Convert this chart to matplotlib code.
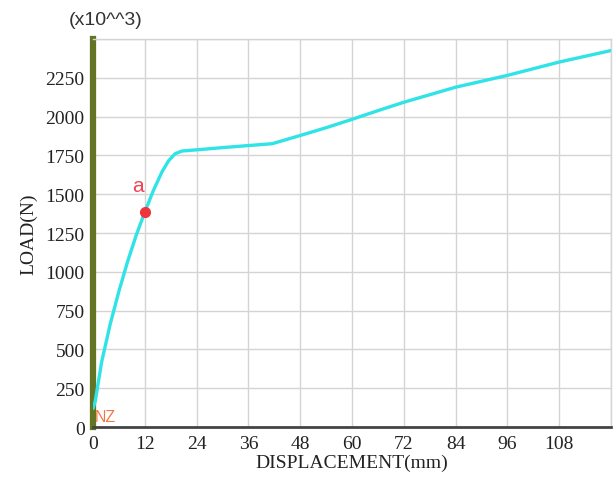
import matplotlib
matplotlib.use("Agg")
import matplotlib.pyplot as plt

# data (displacement mm, load N)
disp = [0, 0.5, 2.0, 4.0, 6.0, 8.0, 10.0, 12.0, 14.0, 16.0, 17.5, 19.0, 20.6, 25.0,
        30.0, 36.8, 41.5, 48.0, 54.0, 60.0, 66.0, 72.0, 84.0, 96.0, 108.0, 120.0]
load = [120, 165, 420, 665, 875, 1065, 1235, 1385, 1525, 1645, 1715, 1760, 1778, 1788,
        1800, 1815, 1825, 1878, 1928, 1982, 2038, 2092, 2189, 2265, 2351, 2425]
point_a = (12.0, 1385)
xticks = [0, 12, 24, 36, 48, 60, 72, 84, 96, 108]
yticks = [0, 250, 500, 750, 1000, 1250, 1500, 1750, 2000, 2250]

fig = plt.figure(figsize=(6.14, 4.81), dpi=100)
ax = fig.add_axes([0.1515, 0.110, 0.8435, 0.807])

ax.set_xlim(0, 120)
ax.set_ylim(0, 2500)
ax.set_xticks(list(range(0, 121, 12)))
ax.set_xticklabels([str(t) for t in xticks] + [""])
ax.set_yticks(list(range(0, 2501, 250)))
ax.set_yticklabels([str(t) for t in yticks] + [""])
ax.grid(True, color="#d4d4d4", linewidth=1.0)
ax.set_axisbelow(True)
ax.tick_params(length=0, pad=6, labelsize=14)
for lab in ax.get_xticklabels() + ax.get_yticklabels():
    lab.set_fontfamily("Liberation Serif")
    lab.set_color("#222222")

ax.spines["top"].set_color("#d4d4d4")
ax.spines["right"].set_color("#d4d4d4")
ax.spines["top"].set_linewidth(1.0)
ax.spines["right"].set_linewidth(1.0)
ax.spines["bottom"].set_color("#444444")
ax.spines["bottom"].set_linewidth(2.0)
ax.spines["left"].set_color("#637524")
ax.spines["left"].set_linewidth(4.5)

ax.plot(disp, load, color="#2fe3e6", linewidth=2.4, solid_capstyle="round",
        solid_joinstyle="round", zorder=3)
ax.plot([point_a[0]], [point_a[1]], "o", color="#f0343c", markersize=7, zorder=4)
ax.text(point_a[0] - 1.5, point_a[1] + 110, "a", color="#ee4455", fontsize=15,
        family="Liberation Sans", ha="center", va="bottom")
ax.text(0.3, 18, "NZ", color="#f07a45", fontsize=11.5, family="Liberation Sans",
        ha="left", va="bottom")

ax.set_xlabel("DISPLACEMENT(mm)", fontsize=14, family="Liberation Serif",
              color="#222222", labelpad=1)
ax.set_ylabel("LOAD(N)", fontsize=14, family="Liberation Serif", color="#222222",
              labelpad=6)
fig.text(0.172, 0.957, "(x10^^3)", fontsize=14, family="Liberation Sans",
         color="#333333", ha="center", va="center")

fig.savefig("out.png", dpi=100)
